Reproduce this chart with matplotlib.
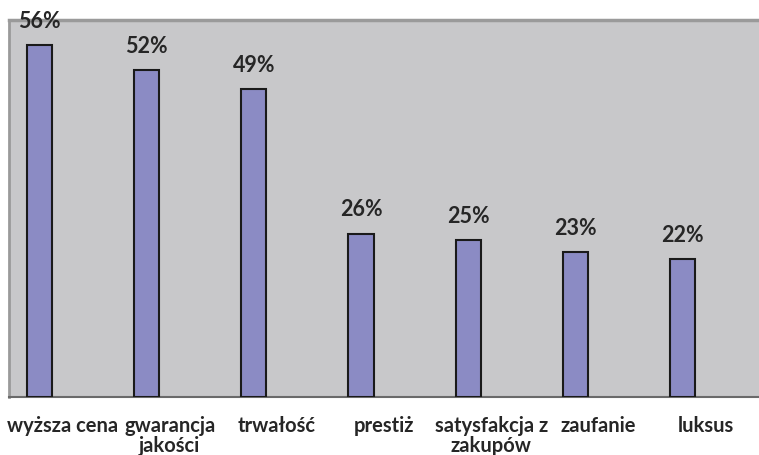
import numpy as np
import matplotlib.pyplot as plt

categories = ['wyższa cena', 'gwarancja\njakości', 'trwałość', 'prestiż',
              'satysfakcja z\nzakupów', 'zaufanie', 'luksus']
values = [56, 52, 49, 26, 25, 23, 22]

plt.rcParams['font.family'] = ['Lato', 'DejaVu Sans']

fig = plt.figure(figsize=(7.59, 4.56), dpi=100)
ax = fig.add_axes([9 / 759, 58 / 456, 750 / 759, 377 / 456])
ax.set_facecolor('#c8c8ca')

x = np.arange(len(categories))
offset = -0.215
bars = ax.bar(x + offset, values, width=0.235, color='#8b8bc4',
              edgecolor='#1a1a1a', linewidth=1.5, zorder=3)

for xi, v in zip(x, values):
    ax.text(xi + offset, v + 2.9, f'{v}%', ha='center', va='baseline',
            fontsize=15.5, fontweight='bold', color='#262626')

ax.set_xlim(-0.5, len(categories) - 0.5)
ax.set_ylim(0, 60)
ax.set_yticks([])
ax.set_xticks(x)
ax.set_xticklabels(categories, fontsize=14.5, fontweight='bold', color='#262626',
                   linespacing=1.0)
ax.tick_params(axis='x', length=0, pad=13)

ax.spines['top'].set_color('#9a9a9a')
ax.spines['top'].set_linewidth(2.5)
ax.spines['left'].set_color('#9a9a9a')
ax.spines['left'].set_linewidth(2)
ax.spines['right'].set_visible(False)
ax.spines['bottom'].set_color('#6a6a6a')
ax.spines['bottom'].set_linewidth(1.5)

fig.savefig('out.png', dpi=100)
